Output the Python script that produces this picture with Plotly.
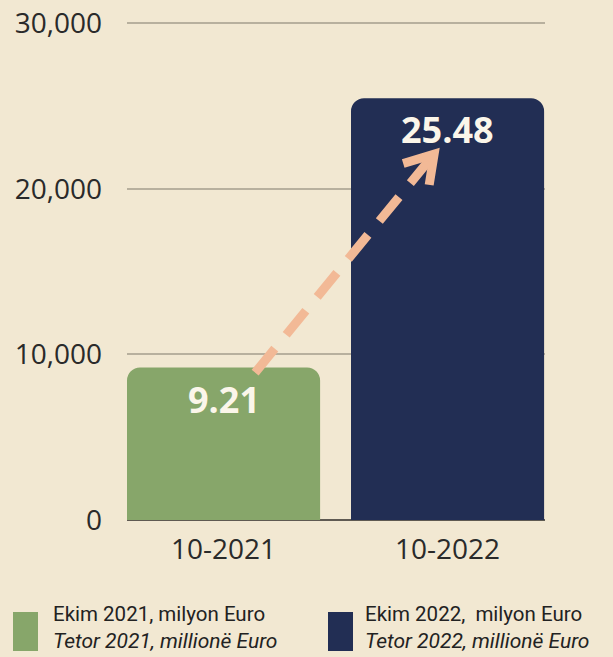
import plotly.graph_objects as go

# ---- data ----
categories = ["10-2021", "10-2022"]
values = [9210, 25480]
value_labels = ["9.21", "25.48"]
bar_colors = ["#87a66a", "#222e54"]
legend_line1 = ["Ekim 2021, milyon Euro", "Ekim 2022,  milyon Euro"]
legend_line2 = ["Tetor 2021, millionë Euro", "Tetor 2022, millionë Euro"]
y_ticks = [0, 10000, 20000, 30000]
y_ticktext = ["0", "10,000", "20,000", "30,000"]

BG = "#f2e8d2"
ARROW = "#f2b996"
x_pos = list(range(len(categories)))

fig = go.Figure()
fig.add_trace(go.Bar(
    x=x_pos, y=values, width=0.862,
    marker=dict(color=bar_colors, line=dict(width=0)),
    hoverinfo="skip", showlegend=False,
))

# value labels inside bars
for xp, v, lab in zip(x_pos, values, value_labels):
    fig.add_annotation(x=xp, y=v, text=f"<b>{lab}</b>", showarrow=False,
                       yanchor="top", yshift=-5,
                       font=dict(family="Open Sans", size=36, color="#fbf6ea"))

# dashed arrow from first bar toward second bar label
arrow_start = (0.141, 8900)
tip = (0.940, 22100)
arm1 = (0.802, 21530)
arm2 = (0.918, 20240)
fig.add_shape(type="line", xref="x", yref="y",
              x0=arrow_start[0], y0=arrow_start[1], x1=tip[0], y1=tip[1],
              line=dict(color=ARROW, width=9, dash="31px,18px"))
fig.add_shape(type="path", xref="x", yref="y",
              path=f"M {arm1[0]},{arm1[1]} L {tip[0]},{tip[1]} L {arm2[0]},{arm2[1]}",
              line=dict(color=ARROW, width=9))

# legend (squares + two-line text)
plot_l, plot_w = 127, 418
plot_b, plot_h = 520, 500
def px_x(p):
    return (p - plot_l) / plot_w
def px_y(p):
    return (plot_b - p) / plot_h

leg_sq_x = [13, 328]
leg_txt_x = [51, 363]
for i in range(len(categories)):
    fig.add_shape(type="rect", xref="paper", yref="paper",
                  x0=px_x(leg_sq_x[i]), x1=px_x(leg_sq_x[i] + 25),
                  y0=px_y(651), y1=px_y(612),
                  fillcolor=bar_colors[i], line=dict(width=0))
    fig.add_annotation(xref="paper", yref="paper", x=px_x(leg_txt_x[i]), y=px_y(614),
                       text=legend_line1[i], showarrow=False, xanchor="left", yanchor="middle",
                       font=dict(family="Roboto", size=20.5, color="#222222"))
    fig.add_annotation(xref="paper", yref="paper", x=px_x(leg_txt_x[i]), y=px_y(641),
                       text=f"<i>{legend_line2[i]}</i>", showarrow=False, xanchor="left", yanchor="middle",
                       font=dict(family="Roboto", size=21, color="#222222"))

fig.update_layout(
    width=613, height=657,
    margin=dict(l=127, r=68, t=20, b=137, autoexpand=False),
    paper_bgcolor=BG, plot_bgcolor=BG,
    barcornerradius=13,
    font=dict(family="Open Sans", color="#2a2a2a"),
    xaxis=dict(
        range=[-0.431, 1.435], tickvals=x_pos, ticktext=categories,
        showgrid=False, zeroline=False, showline=False, automargin=False,
        tickfont=dict(size=28, color="#2a2a2a"), ticks="", ticklabelstandoff=10,
    ),
    yaxis=dict(
        range=[0, 30200], tickvals=y_ticks, ticktext=y_ticktext,
        showgrid=True, gridcolor="#b8b09e", gridwidth=2, automargin=False,
        zeroline=True, zerolinecolor="#5f5a52", zerolinewidth=2,
        tickfont=dict(size=28, color="#2a2a2a"), ticks="", ticklabelstandoff=24,
    ),
)

fig.write_html("out.html", config={"displayModeBar": False},
               post_script="document.body.style.margin='0';")
